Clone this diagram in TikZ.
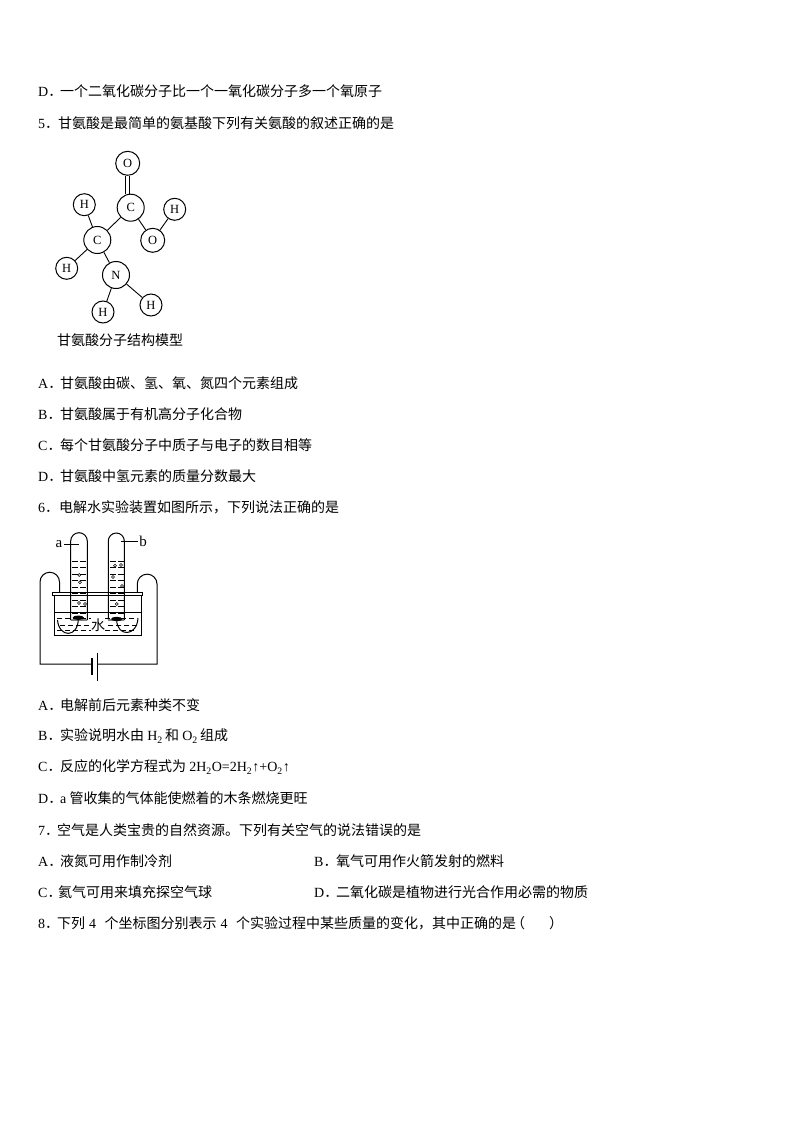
\documentclass[tikz,border=0pt]{standalone}
\usepackage{fontspec}
\setmainfont{Noto Sans CJK SC}
\newfontfamily\latinface{Liberation Serif}
\newcommand{\qlabel}[2]{\makebox[#1pt][l]{{\latinface #2}．}}
\newcommand{\chem}[1]{{\latinface #1}}
\tikzset{qline/.style={anchor=west,inner sep=0pt,font=\fontsize{14}{14}\selectfont},
         atom/.style={draw,circle,inner sep=0pt,line width=1pt,font=\latinface\fontsize{12.5}{12.5}\selectfont},
         bigatom/.style={atom,minimum size=27pt},
         midatom/.style={atom,minimum size=24pt},
         hatom/.style={atom,minimum size=22pt},
         bond/.style={line width=.9pt},
         wire/.style={line width=1pt},
         waterdash/.style={line width=.6pt},
         bubble/.style={line width=.6pt}}
\begin{document}
\begin{tikzpicture}[x=1pt,y=-1pt]
 \useasboundingbox (0,0) rectangle (794,1123);
 \fill[white] (0,0) rectangle (794,1123);
 \foreach \qname/\qy/\qgap/\qmark/\qtext in {
   d/91/22/D/一个二氧化碳分子比一个一氧化碳分子多一个氧原子,
   five/123/20/5/甘氨酸是最简单的氨基酸下列有关氨酸的叙述正确的是,
   glya/383/22/A/甘氨酸由碳、氢、氧、氮四个元素组成,
   glyb/414/22/B/甘氨酸属于有机高分子化合物,
   glyc/445/22/C/每个甘氨酸分子中质子与电子的数目相等,
   glyd/476/22/D/甘氨酸中氢元素的质量分数最大,
   six/507/21/6/电解水实验装置如图所示，下列说法正确的是,
   waa/705/22/A/电解前后元素种类不变,
   wad/798/22/D/{\chem{a} 管收集的气体能使燃着的木条燃烧更旺},
   seven/830/19/7/空气是人类宝贵的自然资源。下列有关空气的说法错误的是,
   aira/861/22/A/液氮可用作制冷剂,
   airc/892/20/C/氦气可用来填充探空气球,
   eight/923/19/8/{下列\hspace{4pt}\chem{4}\hspace{8.5pt}个坐标图分别表示\hspace{4pt}\chem{4}\hspace{8.5pt}个实验过程中某些质量的变化，其中正确的是\hspace{-5pt}（\hspace{24pt}）}}
  {\node[qline] (q\qname) at (38,\qy) {\qlabel{\qgap}{\qmark}\qtext};}
 \node[qline] (wab) at (38,736) {\qlabel{22}{B}实验说明水由 \chem{H\textsubscript{2}}\,和 \chem{O\textsubscript{2}}\,组成};
 \node[qline] (wac) at (38,767) {\qlabel{22}{C}反应的化学方程式为 \chem{2H\textsubscript{2}O=2H\textsubscript{2}↑+O\textsubscript{2}↑}};
 \node[qline] (airb) at (314,861) {\qlabel{22}{B}氧气可用作火箭发射的燃料};
 \node[qline] (aird) at (314,892) {\qlabel{22}{D}二氧化碳是植物进行光合作用必需的物质};
 \node[qline] (caption) at (57,340) {甘氨酸分子结构模型};

 \node[midatom] (Otop) at (127.7,163.3) {O};
 \node[bigatom] (Cup) at (130.7,207.7) {C};
 \node[hatom] (Hup) at (84.3,204.7) {H};
 \node[hatom] (Hright) at (174.7,209.3) {H};
 \node[bigatom] (Cmid) at (97.3,240) {C};
 \node[midatom] (Oright) at (152.7,240.3) {O};
 \node[hatom] (Hleft) at (66.7,268.3) {H};
 \node[bigatom] (N) at (116,275) {N};
 \node[hatom] (Hlow) at (103,312) {H};
 \node[hatom] (Hlowr) at (151,305) {H};
 \draw[bond] ([xshift=-2.2pt]Otop.south) -- ([xshift=-2.2pt]Otop.south |- Cup.north);
 \draw[bond] ([xshift=2.2pt]Otop.south) -- ([xshift=2.2pt]Otop.south |- Cup.north);
 \foreach \from/\to in {Cup/Cmid,Cup/Oright,Oright/Hright,Cmid/Hup,Cmid/Hleft,Cmid/N,N/Hlow,N/Hlowr}
  \draw[bond] (\from) -- (\to);

 \foreach \row in {561,567.5,...,614}{
  \draw[waterdash] (72,\row) -- ++(6,0) (80,\row) -- ++(6,0);
  \draw[waterdash] (110,\row) -- ++(6,0) (118,\row) -- ++(6,0);
 }
 \foreach \row/\start in {618/57,625/60,630/57}
  \foreach \step in {0,8,...,72}
   \draw[waterdash] (\start+\step,\row) -- ++(4.5,0);
 \draw[wire] (70.7,620) -- (70.7,541) arc[start angle=180,end angle=360,radius=8.3] -- (87.3,620);
 \draw[wire] (108.3,620) -- (108.3,541) arc[start angle=180,end angle=360,radius=8] -- (124.3,620);
 \draw[wire] (54.3,595.7) -- (54.3,635.5) -- (141,635.5) -- (141,595.7);
 \draw[wire] (52.7,592.7) rectangle (142.7,595.7);
 \draw[waterdash] (54.3,612) -- (141,612);
 \fill[white] (91,618) rectangle (105,632);
 \node[inner sep=0pt,font=\fontsize{14}{14}\selectfont] (water) at (98,625) {水};
 \draw[gray,line width=1.5pt] (71,620) -- (87,620) (108,620) -- (124,620);
 \fill (78.3,617.7) ellipse[x radius=5.7,y radius=2.2];
 \fill (116.7,619) ellipse[x radius=5.7,y radius=2.2];
 \draw[wire] (91,664) -- (40,664) -- (40,582) arc[start angle=180,end angle=360,radius=9.75] -- (59.5,592.7);
 \draw[wire] (98,664) -- (157,664) -- (157,584) arc[start angle=360,end angle=180,radius=9.85] -- (137.3,592.7);
 \draw[wire] (57.5,620) .. controls (59,638) and (78,638) .. (78.3,619);
 \draw[wire] (116.7,620) .. controls (117,637) and (137,637) .. (138,618);
 \draw[line width=2.4pt] (91.7,658) -- (91.7,675);
 \draw[wire] (97.7,653) -- (97.7,681);
 \node[inner sep=0pt,font=\latinface\fontsize{15}{15}\selectfont] (labela) at (59,544) {a};
 \node[inner sep=0pt,font=\latinface\fontsize{15}{15}\selectfont] (labelb) at (143,541) {b};
 \draw[wire] (64,544) -- (79,544);
 \draw[wire] (138,541) -- (121,541);
 \foreach \bx/\by in {79.3/575,80/582.3,79/603,85/604,115/565.7,121/565,113/577,122/586,116.7/604}
  \draw[bubble] (\bx,\by) circle[radius=1.5];
\end{tikzpicture}
\end{document}
